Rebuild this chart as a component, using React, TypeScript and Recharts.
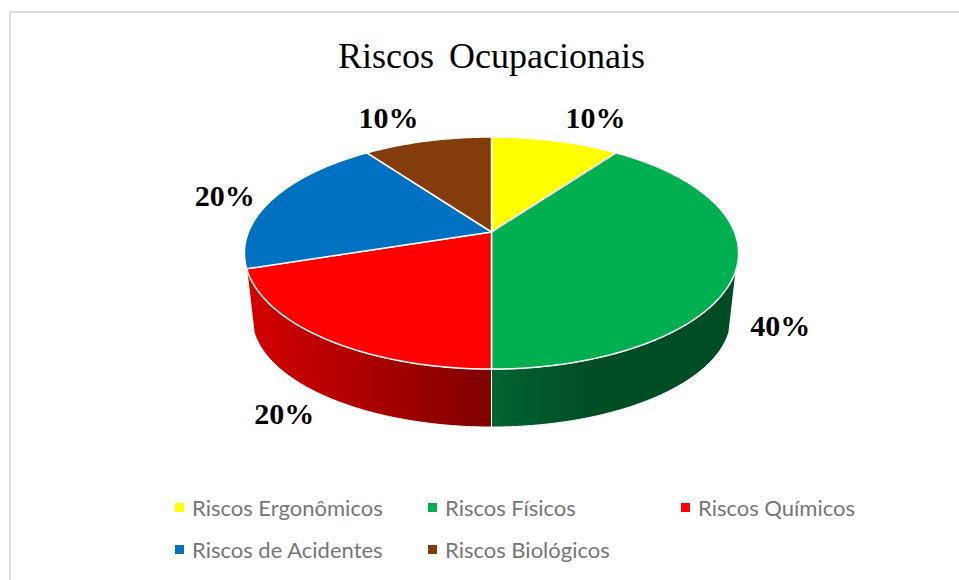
import React from 'react';
import { PieChart, Pie, Legend } from 'recharts';

const categories = ['Riscos Ergonômicos', 'Riscos Físicos', 'Riscos Químicos', 'Riscos de Acidentes', 'Riscos Biológicos'];
const shares = [10, 40, 20, 20, 10];
const topColors = ['#ffff00', '#00b050', '#ff0000', '#0070c0', '#843c0c'];
const wallFills = ['none', 'url(#wallGreen)', 'url(#wallRed)', 'none', 'none'];

const data = categories.map((name, i) => ({ name, value: shares[i], fill: topColors[i], wall: wallFills[i] }));

const WIDTH = 959;
const HEIGHT = 580;
const CX = 491.5;
const CY = 232;
const RADIUS = 243;
const TILT = 0.462; // vertical squash of the disc
const PERSPECTIVE = 0.181; // far edge is smaller than the near edge
const RIM_MID = 21; // the disc's outline is centred this far below the pie centre
const DEPTH = 64;
const FLOOR_SCALE_X = 0.97;
const FLOOR_SCALE_Y = 0.948;
const WALL_FROM = 108; // clock degrees where the side wall becomes visible
const WALL_TO = 252;

// clock angle (0 = top, clockwise) on the pie -> point on the tilted disc
const project = (cx: number, cy: number, r: number, clock: number) => {
  const a = (clock * Math.PI) / 180;
  const w = 1 + PERSPECTIVE * Math.cos(a);
  return {
    x: cx + (r * Math.sin(a)) / w,
    y: cy - (r * TILT * Math.cos(a)) / w,
  };
};

const toClock = (deg: number) => 90 - deg;

const arc = (cx: number, cy: number, r: number, from: number, to: number) => {
  const pts = [];
  const steps = Math.max(2, Math.ceil(Math.abs(to - from)));
  for (let i = 0; i <= steps; i++) {
    pts.push(project(cx, cy, r, from + ((to - from) * i) / steps));
  }
  return pts;
};

const DiscSlice = (props: any) => {
  const { cx, cy, outerRadius, startAngle, endAngle, fill, wall } = props;
  const from = toClock(startAngle);
  const to = toClock(endAngle);
  const rim = arc(cx, cy, outerRadius, from, to);
  const top = `M${cx},${cy} ` + rim.map((p) => `L${p.x},${p.y}`).join(' ') + ' Z';

  const wallStart = Math.max(from, WALL_FROM);
  const wallEnd = Math.min(to, WALL_TO);
  let side = null;
  if (wall !== 'none' && wallEnd > wallStart) {
    const midY = cy + RIM_MID;
    const upper = arc(cx, cy, outerRadius, wallStart, wallEnd);
    const lower = upper
      .map((p) => ({
        x: cx + (p.x - cx) * FLOOR_SCALE_X,
        y: midY + (p.y - midY) * FLOOR_SCALE_Y + DEPTH,
      }))
      .reverse();
    const d = [...upper, ...lower].map((p, i) => `${i ? 'L' : 'M'}${p.x},${p.y}`).join(' ') + ' Z';
    side = <path d={d} fill={wall} stroke="#ffffff" strokeWidth={1} />;
  }
  return (
    <g>
      {side}
      <path d={top} fill={fill} stroke="#ffffff" strokeWidth={1.5} strokeLinejoin="round" />
    </g>
  );
};

// nudges from the rim point at the middle of each slice
const labelNudge = [
  [40, -23],
  [44, 57],
  [-40, 75],
  [-48, -4],
  [-39, -23],
];

const PercentLabel = (props: any) => {
  const { cx, cy, outerRadius, midAngle, index, value } = props;
  const p = project(cx, cy, outerRadius, toClock(midAngle));
  const [dx, dy] = labelNudge[index];
  return (
    <text
      x={p.x + dx}
      y={p.y + dy}
      textAnchor="middle"
      dominantBaseline="central"
      fontFamily="'Liberation Serif', serif"
      fontWeight="bold"
      fontSize={30}
      fill="#000000"
    >
      {value}%
    </text>
  );
};

const LegendBlock = () => (
  <div style={{ display: 'grid', gridTemplateColumns: '253px 253px 253px', rowGap: 0 }}>
    {data.map((d) => (
      <div key={d.name} style={{ display: 'flex', alignItems: 'center', height: 42, color: '#767676', fontFamily: "Lato, sans-serif", fontSize: 22, whiteSpace: 'nowrap' }}>
        <span style={{ width: 9, height: 9, background: d.fill, marginRight: 8, flex: 'none' }} />
        {d.name}
      </div>
    ))}
  </div>
);

export default function App() {
  return (
    <div style={{ position: 'absolute', left: 0, top: 0, width: WIDTH, height: HEIGHT, background: '#ffffff' }}>
      <PieChart width={WIDTH} height={HEIGHT} margin={{ top: 0, right: 0, bottom: 0, left: 0 }}>
        <defs>
          <linearGradient id="wallRed" x1="0" y1="0" x2="1" y2="0">
            <stop offset="0" stopColor="#d40000" />
            <stop offset="1" stopColor="#800000" />
          </linearGradient>
          <linearGradient id="wallGreen" x1="0" y1="0" x2="1" y2="0">
            <stop offset="0" stopColor="#006430" />
            <stop offset="0.42" stopColor="#004c24" />
            <stop offset="1" stopColor="#004c24" />
          </linearGradient>
        </defs>
        <rect x={10} y={12} width={WIDTH} height={HEIGHT} fill="none" stroke="#dcdcdc" strokeWidth={2} />
        <text
          x={491.5}
          y={68}
          textAnchor="middle"
          fontFamily="'Liberation Serif', serif"
          fontSize={36}
          wordSpacing={6}
          fill="#000000"
        >
          Riscos Ocupacionais
        </text>
        <Pie
          data={data}
          dataKey="value"
          nameKey="name"
          cx={CX}
          cy={CY}
          outerRadius={RADIUS}
          startAngle={90}
          endAngle={-270}
          paddingAngle={0}
          stroke="none"
          shape={DiscSlice}
          label={PercentLabel}
          labelLine={false}
          isAnimationActive={false}
        />
        <Legend
          content={<LegendBlock />}
          layout="horizontal"
          wrapperStyle={{ position: 'absolute', left: 175, top: 486, width: 770, bottom: 'auto' }}
        />
      </PieChart>
    </div>
  );
}
